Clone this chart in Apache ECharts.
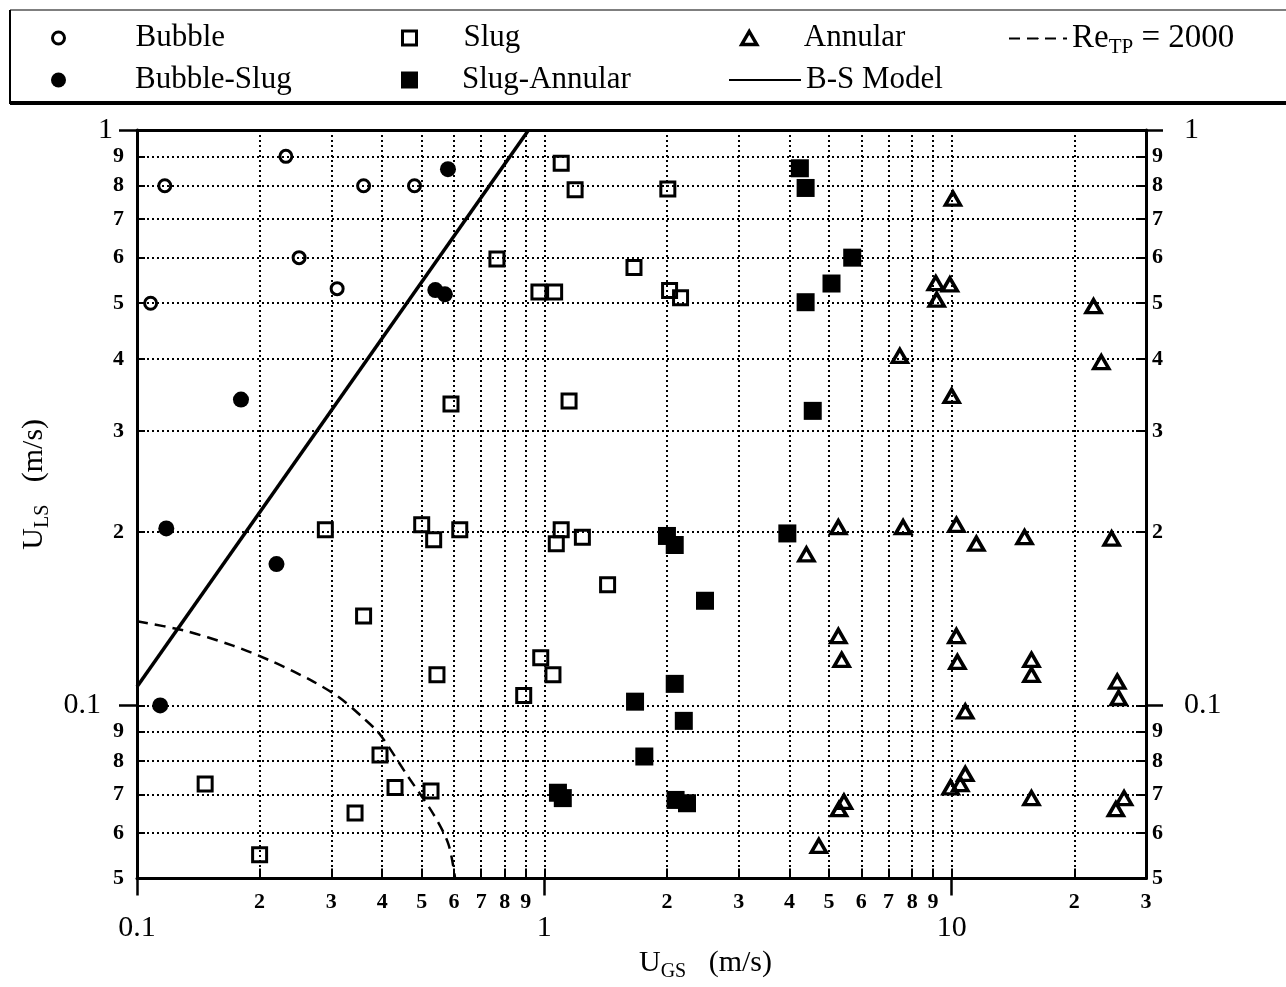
<!DOCTYPE html>
<html>
<head>
<meta charset="utf-8">
<script src="https://cdn.jsdelivr.net/npm/echarts@6/dist/echarts.min.js"></script>
<style>
  html, body { margin: 0; padding: 0; background: #fff; }
  #chart { width: 1286px; height: 987px; }
</style>
</head>
<body>
<div id="chart"></div>
<script>
// flow regime points, [U_GS, U_LS] in m/s
const bubble = [[0.117, 0.80], [0.232, 0.90], [0.36, 0.80], [0.48, 0.80], [0.25, 0.60], [0.31, 0.53], [0.108, 0.50]];
const bubbleSlug = [[0.58, 0.855], [0.54, 0.527], [0.57, 0.518], [0.18, 0.34], [0.118, 0.203], [0.22, 0.176], [0.114, 0.100]];
const slug = [
  [1.10, 0.875], [1.19, 0.787], [2.01, 0.79], [0.765, 0.597], [1.66, 0.577], [0.97, 0.523], [1.06, 0.523],
  [2.03, 0.526], [2.16, 0.511], [0.59, 0.334], [1.15, 0.338], [0.29, 0.202], [0.50, 0.206], [0.535, 0.194],
  [0.36, 0.143], [0.545, 0.113], [0.62, 0.202], [1.10, 0.202], [1.07, 0.191], [1.24, 0.196], [1.43, 0.162],
  [0.98, 0.121], [1.05, 0.113], [0.89, 0.104], [0.147, 0.073], [0.20, 0.055], [0.343, 0.065], [0.395, 0.082],
  [0.43, 0.072], [0.527, 0.071]
];
const slugAnnular = [
  [4.24, 0.858], [4.38, 0.793], [5.70, 0.60], [5.07, 0.541], [4.38, 0.502], [4.56, 0.325], [2.0, 0.197],
  [2.09, 0.190], [2.48, 0.152], [2.09, 0.109], [3.95, 0.199], [1.67, 0.1015], [2.20, 0.094], [1.76, 0.0815],
  [1.08, 0.0705], [1.11, 0.069], [2.10, 0.0685], [2.24, 0.0676]
];
const annular = [
  [10.07, 0.76], [9.14, 0.542], [9.9, 0.539], [9.19, 0.507], [22.3, 0.494], [7.46, 0.405], [23.3, 0.395],
  [10.0, 0.345], [5.27, 0.204], [4.40, 0.183], [7.6, 0.204], [10.27, 0.206], [11.5, 0.191], [15.1, 0.196],
  [24.7, 0.195], [5.27, 0.132], [5.37, 0.120], [10.27, 0.132], [10.33, 0.119], [15.7, 0.120], [15.7, 0.113],
  [25.5, 0.110], [25.7, 0.103], [10.8, 0.0976], [10.8, 0.076], [9.94, 0.072], [10.5, 0.073], [15.7, 0.069],
  [26.5, 0.069], [25.3, 0.066], [4.72, 0.057], [5.44, 0.068], [5.29, 0.066]
];

// model curves
const bsModelX = [0.1, 0.915];
const bsModelY = [0.1077, 1.0];
const reTpX = [0.1, 0.13, 0.172, 0.216, 0.271, 0.315, 0.36, 0.395, 0.46, 0.535, 0.582, 0.604];
const reTpY = [0.140, 0.135, 0.127, 0.119, 0.110, 0.103, 0.095, 0.089, 0.0757, 0.0646, 0.0573, 0.05];

// axis ticks
const xGrid = [0.2, 0.3, 0.4, 0.5, 0.6, 0.7, 0.8, 0.9, 1, 2, 3, 4, 5, 6, 7, 8, 9, 10, 20];
const xMinorLabels = [0.2, 0.3, 0.4, 0.5, 0.6, 0.7, 0.8, 0.9, 2, 3, 4, 5, 6, 7, 8, 9, 20, 30];
const xMajor = [0.1, 1, 10];
const yGrid = [0.06, 0.07, 0.08, 0.09, 0.1, 0.2, 0.3, 0.4, 0.5, 0.6, 0.7, 0.8, 0.9];
const yMinorLabels = [0.05, 0.06, 0.07, 0.08, 0.09, 0.2, 0.3, 0.4, 0.5, 0.6, 0.7, 0.8, 0.9];
const yMajor = [0.1, 1];

const SERIF = "Liberation Serif";
const pair = (xs, ys) => xs.map((x, i) => [x, ys[i]]);
const mantissa = (v) => {
  const e = Math.floor(Math.log10(v) + 1e-9);
  return String(Math.round(v / Math.pow(10, e)));
};
const decade = (v) => String(+v.toPrecision(2));

const openStyle = { color: "rgba(0,0,0,0)", borderColor: "#000", borderWidth: 3, opacity: 1 };
const filledStyle = { color: "#000", opacity: 1 };
const triStyle = { color: "rgba(0,0,0,0)", borderColor: "#000", borderWidth: 3.5, opacity: 1 };
const smallLabel = { fontFamily: SERIF, fontSize: 22, fontWeight: "bold", color: "#000" };
const bigLabel = { fontFamily: SERIF, fontSize: 30, color: "#000" };
const gridLine = { show: true, lineStyle: { color: "#000", width: 2, type: [2, 3] } };
const subRich = {
  u: { fontFamily: SERIF, fontSize: 30, color: "#000" },
  s: { fontFamily: SERIF, fontSize: 20, color: "#000", padding: [17, 0, 0, 0] },
  p: { fontFamily: SERIF, fontSize: 30, color: "#000", padding: [0, 12, 0, 0] },
};

const legendText = (pad) => ({
  fontFamily: SERIF, fontSize: 31, color: "#000", lineHeight: 32,
  padding: [0, 0, 0, pad], rich: subRich,
});
const mkLegend = (item, left, top, w, h, pad, extra) =>
  Object.assign({
    data: [item], left: left, top: top, itemWidth: w, itemHeight: h,
    textStyle: legendText(pad), selectedMode: false,
  }, extra || {});

const chart = echarts.init(document.getElementById("chart"));

const option = {
  animation: false,
  backgroundColor: "#fff",
  grid: { left: 137, top: 130, right: 140, bottom: 106 },
  graphic: [
    { type: "line", shape: { x1: 10, y1: 10, x2: 1286, y2: 10 }, style: { stroke: "#555", lineWidth: 1.5 } },
    { type: "line", shape: { x1: 10, y1: 10, x2: 10, y2: 104 }, style: { stroke: "#000", lineWidth: 2 } },
    { type: "line", shape: { x1: 10, y1: 103, x2: 1286, y2: 103 }, style: { stroke: "#000", lineWidth: 4 } },
  ],
  legend: [
    mkLegend({ name: "Bubble", itemStyle: openStyle }, 46, 17, 12, 12, 66),
    mkLegend({ name: "Bubble-Slug", itemStyle: filledStyle }, 46, 59, 15, 16, 64),
    mkLegend({ name: "Slug", itemStyle: openStyle }, 396, 17, 14, 14, 42),
    mkLegend({ name: "Slug-Annular", itemStyle: filledStyle }, 396, 59, 17, 17, 39),
    mkLegend({ name: "Annular", itemStyle: triStyle }, 735, 17, 15, 13, 42),
    mkLegend({ name: "B-S Model" }, 723, 59, 72, 2, 0),
    mkLegend({ name: "Re_TP = 2000" }, 1003, 17, 58, 2, 0, {
      formatter: () => "{u|Re}{s|TP}{u| = 2000}",
      textStyle: {
        fontFamily: SERIF, fontSize: 33, color: "#000", lineHeight: 32,
        rich: {
          u: { fontFamily: SERIF, fontSize: 33, color: "#000" },
          s: { fontFamily: SERIF, fontSize: 21, color: "#000", padding: [18, 0, 0, 0] },
        },
      },
    }),
  ],
  xAxis: [
    {
      type: "log", logBase: 10, min: 0.1, max: 30, position: "bottom",
      axisLine: { onZero: false, lineStyle: { color: "#000", width: 3 } },
      axisTick: { show: true, inside: true, length: 10, customValues: xGrid, lineStyle: { color: "#000", width: 2 } },
      axisLabel: { customValues: xMinorLabels, formatter: mantissa, margin: 13, ...smallLabel },
      splitLine: gridLine,
      minorTick: { show: false }, minorSplitLine: { show: false },
    },
    {
      type: "log", logBase: 10, min: 0.1, max: 30, position: "bottom",
      axisLine: { show: false, onZero: false },
      axisTick: { show: true, inside: false, length: 17, customValues: xMajor, lineStyle: { color: "#000", width: 2.5 } },
      axisLabel: { customValues: xMajor, formatter: decade, margin: 35, ...bigLabel },
      splitLine: { show: false },
      name: "{u|U}{s|GS}{u|   (m/s)}", nameLocation: "middle", nameGap: 60,
      nameTextStyle: { padding: [0, 0, 0, 128], rich: subRich },
    },
    {
      type: "log", logBase: 10, min: 0.1, max: 30, position: "top",
      axisLine: { onZero: false, lineStyle: { color: "#000", width: 3 } },
      axisTick: { show: false }, axisLabel: { show: false }, splitLine: { show: false },
    },
  ],
  yAxis: [
    {
      type: "log", logBase: 10, min: 0.05, max: 1, position: "left",
      axisLine: { onZero: false, lineStyle: { color: "#000", width: 3 } },
      axisTick: { show: true, inside: true, length: 8, customValues: yGrid, lineStyle: { color: "#000", width: 2 } },
      axisLabel: { customValues: yMinorLabels, formatter: mantissa, margin: 13, ...smallLabel },
      splitLine: gridLine,
      minorTick: { show: false }, minorSplitLine: { show: false },
    },
    {
      type: "log", logBase: 10, min: 0.05, max: 1, position: "left",
      axisLine: { show: false, onZero: false },
      axisTick: { show: true, inside: false, length: 18, customValues: yMajor, lineStyle: { color: "#000", width: 2.5 } },
      axisLabel: {
        customValues: yMajor, margin: 24, ...bigLabel, rich: subRich,
        formatter: (v) => (v < 0.5 ? "{p|" + decade(v) + "}" : decade(v)),
      },
      splitLine: { show: false },
      name: "{u|U}{s|LS}{u|   (m/s)}", nameLocation: "middle", nameGap: 78,
      nameTextStyle: { padding: [0, 0, 0, 40], rich: subRich },
    },
    {
      type: "log", logBase: 10, min: 0.05, max: 1, position: "right",
      axisLine: { onZero: false, lineStyle: { color: "#000", width: 3 } },
      axisTick: { show: true, inside: true, length: 10, customValues: yGrid, lineStyle: { color: "#000", width: 2 } },
      axisLabel: { customValues: yMinorLabels, formatter: mantissa, margin: 6, ...smallLabel },
      splitLine: { show: false },
    },
    {
      type: "log", logBase: 10, min: 0.05, max: 1, position: "right",
      axisLine: { show: false, onZero: false },
      axisTick: { show: true, inside: false, length: 17, customValues: yMajor, lineStyle: { color: "#000", width: 2.5 } },
      axisLabel: { customValues: yMajor, formatter: decade, margin: 38, ...bigLabel },
      splitLine: { show: false },
    },
  ],
  series: [
    {
      name: "B-S Model", type: "line", data: pair(bsModelX, bsModelY),
      symbol: "none", lineStyle: { color: "#000", width: 3.5 }, itemStyle: { color: "#000" },
    },
    {
      name: "Re_TP = 2000", type: "line", data: pair(reTpX, reTpY), smooth: 0.3,
      symbol: "none", lineStyle: { color: "#000", width: 2.5, type: [11, 7] }, itemStyle: { color: "#000" },
    },
    { name: "Bubble", type: "scatter", data: bubble, symbol: "circle", symbolSize: 12, itemStyle: openStyle },
    { name: "Bubble-Slug", type: "scatter", data: bubbleSlug, symbol: "circle", symbolSize: 16, itemStyle: filledStyle },
    { name: "Slug", type: "scatter", data: slug, symbol: "rect", symbolSize: 14, itemStyle: openStyle },
    { name: "Slug-Annular", type: "scatter", data: slugAnnular, symbol: "rect", symbolSize: 18, itemStyle: filledStyle },
    { name: "Annular", type: "scatter", data: annular, symbol: "triangle", symbolSize: [15, 13], itemStyle: triStyle },
  ],
};

chart.setOption(option);
</script>
</body>
</html>
